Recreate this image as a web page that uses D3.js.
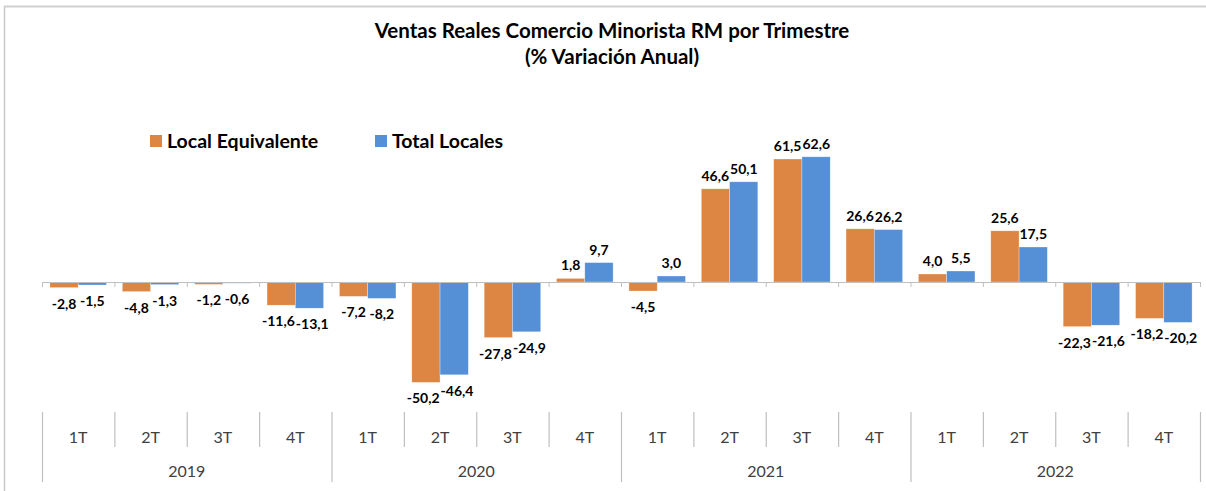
<!DOCTYPE html>
<html>
<head>
<meta charset="utf-8">
<script src="https://cdn.jsdelivr.net/npm/d3@7"></script>
<style>
  body { margin: 0; background: #fff; }
  svg { font-family: Lato, "Open Sans", sans-serif; }
</style>
</head>
<body>
<svg id="chart"></svg>
<script>
var years = ["2019", "2020", "2021", "2022"];
var quarters = ["1T", "2T", "3T", "4T"];
var seriesNames = ["Local Equivalente", "Total Locales"];
var localEquivalente = [-2.8, -4.8, -1.2, -11.6, -7.2, -50.2, -27.8, 1.8, -4.5, 46.6, 61.5, 26.6, 4.0, 25.6, -22.3, -18.2];
var totalLocales = [-1.5, -1.3, -0.6, -13.1, -8.2, -46.4, -24.9, 9.7, 3.0, 50.1, 62.6, 26.2, 5.5, 17.5, -21.6, -20.2];

var colors = ["#DD8542", "#558FD6"];

var W = 1206, H = 491;
var margin = { left: 42, right: 6, zeroY: 282 };

// categories: one per quarter
var cats = [];
years.forEach(function (y) {
  quarters.forEach(function (q) { cats.push(y + "-" + q); });
});

var svg = d3.select("#chart").attr("width", W).attr("height", H);

// chart frame
svg.append("line").attr("x1", 4.5).attr("x2", 4.5).attr("y1", 6).attr("y2", H)
  .attr("stroke", "#c8c8c8").attr("stroke-width", 1.5);
svg.append("line").attr("x1", 4).attr("x2", W).attr("y1", 6.5).attr("y2", 6.5)
  .attr("stroke", "#d0d0d0").attr("stroke-width", 2);

// title
var title = svg.append("text").attr("x", 612).attr("text-anchor", "middle")
  .style("font-weight", "bold").style("font-size", "20.5px").attr("fill", "#000");
title.append("tspan").attr("x", 612).attr("y", 38).text("Ventas Reales Comercio Minorista RM por Trimestre");
title.append("tspan").attr("x", 612).attr("y", 64).text("(% Variación Anual)");

var x = d3.scaleBand().domain(cats).range([margin.left, 1200]).paddingInner(0).paddingOuter(0);
var x1 = d3.scaleBand().domain(seriesNames).range([0, x.bandwidth()]).paddingOuter(0.28).paddingInner(0);

// 2 px per unit of variation
var y = d3.scaleLinear().domain([0, 62.6]).range([margin.zeroY, margin.zeroY - 125.2]);

var rows = cats.map(function (c, i) {
  return { cat: c, vals: [localEquivalente[i], totalLocales[i]] };
});

// bars
var groups = svg.selectAll(".grp").data(rows).enter().append("g")
  .attr("class", "grp")
  .attr("transform", function (d) { return "translate(" + x(d.cat) + ",0)"; });

// axis line + ticks
svg.append("line").attr("x1", margin.left).attr("x2", 1200).attr("y1", margin.zeroY + 0.5).attr("y2", margin.zeroY + 0.5)
  .attr("stroke", "#bfbfbf").attr("stroke-width", 1);
var bounds = cats.map(function (c) { return x(c); }).concat([1200]);
svg.selectAll(".tick0").data(bounds).enter().append("line")
  .attr("x1", function (d) { return d + 0.5; }).attr("x2", function (d) { return d + 0.5; })
  .attr("y1", margin.zeroY).attr("y2", margin.zeroY + 5)
  .attr("stroke", "#bfbfbf");

groups.selectAll("rect").data(function (d) {
  return d.vals.map(function (v, k) { return { v: v, k: k }; });
}).enter().append("rect")
  .attr("x", function (d) { return x1(seriesNames[d.k]); })
  .attr("width", x1.bandwidth())
  .attr("y", function (d) { return Math.min(y(d.v), y(0)); })
  .attr("height", function (d) { return Math.abs(y(d.v) - y(0)); })
  .attr("fill", function (d) { return colors[d.k]; })
  .attr("stroke", "rgba(255,255,255,0.5)").attr("stroke-width", 0.6);

// data labels (comma decimal, plain hyphen minus)
var fmt = function (v) { return d3.format(".1f")(v).replace(".", ",").replace("\u2212", "-"); };
groups.each(function (d) {
  var g = d3.select(this);
  var labels = d.vals.map(function (v, k) {
    var ly = v < 0 ? y(v) + 21 : y(v) - 8;
    var t = g.append("text")
      .attr("text-anchor", "middle")
      .style("font-weight", "bold").style("font-size", "14px").attr("fill", "#000")
      .attr("y", ly)
      .text(fmt(v));
    var cx = x1(seriesNames[k]) + x1.bandwidth() / 2;
    return { t: t, cx: cx, w: t.node().getComputedTextLength(), y: ly };
  });
  // push apart labels that overlap
  var a = labels[0], b = labels[1];
  var overlap = (a.cx + a.w / 2) - (b.cx - b.w / 2) + 1;
  if (overlap > 0 && Math.abs(a.y - b.y) < 14) {
    a.cx -= overlap / 2; b.cx += overlap / 2;
  }
  labels.forEach(function (l) { l.t.attr("x", l.cx); });
});

// category axis (quarters and years)
var axisColor = "#bfbfbf";
var quarterTop = 412, quarterBottom = 447, yearBottom = 482;
svg.selectAll(".qsep").data(bounds).enter().append("line")
  .attr("x1", function (d) { return d + 0.5; }).attr("x2", function (d) { return d + 0.5; })
  .attr("y1", quarterTop)
  .attr("y2", function (d, i) { return i % 4 === 0 ? yearBottom : quarterBottom; })
  .attr("stroke", axisColor).attr("stroke-width", 1.2);

svg.selectAll(".qlab").data(cats).enter().append("text")
  .attr("x", function (d) { return x(d) + x.bandwidth() / 2; })
  .attr("y", 443)
  .attr("text-anchor", "middle")
  .style("font-size", "16px").attr("fill", "#404040")
  .text(function (d) { return d.split("-")[1]; });

svg.selectAll(".ylab").data(years).enter().append("text")
  .attr("x", function (d) { return (x(d + "-1T") + x(d + "-4T") + x.bandwidth()) / 2; })
  .attr("y", 477)
  .attr("text-anchor", "middle")
  .style("font-size", "16px").attr("fill", "#404040")
  .text(function (d) { return d; });

// legend
var legendX = [150, 375];
var leg = svg.selectAll(".leg").data(seriesNames).enter().append("g")
  .attr("transform", function (d, i) { return "translate(" + legendX[i] + ",135)"; });
leg.append("rect").attr("width", 12).attr("height", 12).attr("fill", function (d, i) { return colors[i]; });
leg.append("text").attr("x", 17).attr("y", 12.5)
  .style("font-weight", "bold").style("font-size", "19.5px").attr("fill", "#000")
  .text(function (d) { return d; });
</script>
</body>
</html>
